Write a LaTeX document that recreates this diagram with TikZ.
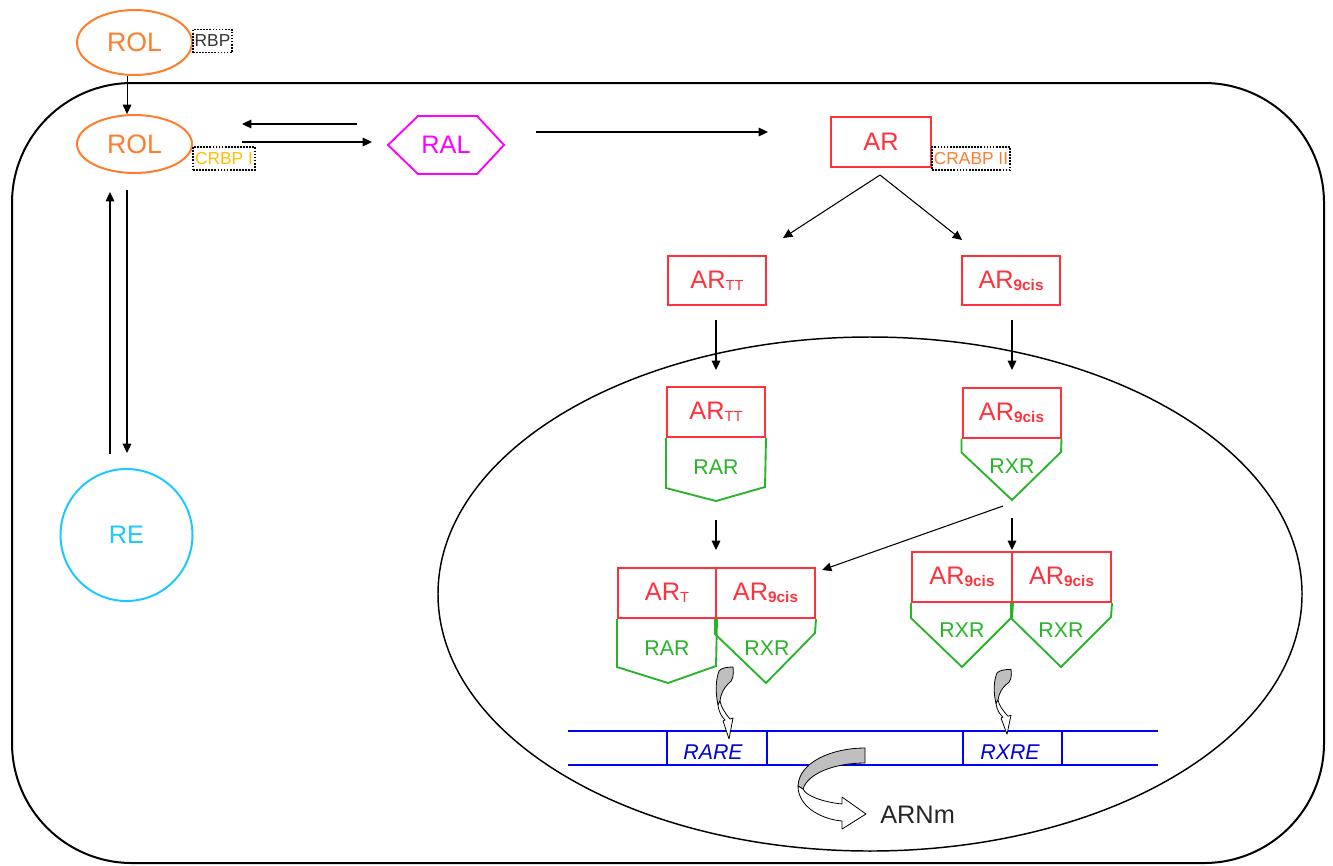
\documentclass[tikz,border=0pt]{standalone}
\usepackage{fontspec}
\setmainfont{Liberation Sans}
\usetikzlibrary{arrows.meta,shapes.geometric}
\definecolor{rolor}{RGB}{255,125,45}
\definecolor{arred}{RGB}{255,50,60}
\definecolor{rgreen}{RGB}{40,180,40}
\definecolor{recyan}{RGB}{30,200,255}
\definecolor{dnablue}{RGB}{0,0,255}
\definecolor{goldc}{RGB}{255,190,0}
\definecolor{ralmag}{RGB}{255,0,255}
\newcommand\lblfont{\fontsize{19}{22}\selectfont}
\newcommand\sbTT{\raisebox{-1.5pt}{\fontsize{11}{12}\selectfont TT}}
\newcommand\sbT{\raisebox{-1.5pt}{\fontsize{11}{12}\selectfont T}}
\newcommand\sbcis{\raisebox{-1.5pt}{\fontsize{11.5}{12}\selectfont\bfseries 9cis}}
\tikzset{
  rolell/.style={ellipse, draw=rolor, line width=1.5pt, text=rolor, minimum width=86.25pt, inner sep=0pt, font=\fontsize{20}{22}\selectfont},
  dotbox/.style={draw=black, densely dotted, line width=1.3pt, inner sep=0pt, minimum height=17.25pt, font=\fontsize{13}{15}\selectfont},
  arbox/.style={draw=arred, line width=1.5pt, text=arred, minimum width=73.5pt, minimum height=37.5pt, inner sep=0pt, font=\lblfont},
  recline/.style={draw=rgreen, line width=1.4pt, line join=miter},
  reclab/.style={text=rgreen, font=\fontsize{16}{18}\selectfont, inner sep=0pt},
  arr/.style={-{Triangle[length=7pt,width=6.5pt]}, line width=0.8pt},
  dna/.style={draw=dnablue, line width=1.5pt},
  dnalab/.style={text=dnablue!85!black, font=\fontsize{16}{18}\selectfont\itshape, inner sep=0pt},
  twist/.style={draw=black, line width=0.6pt, line join=round}
}
\begin{document}
\begin{tikzpicture}[x=0.75pt,y=-0.75pt]
\useasboundingbox (0,0) rectangle (1333,865);
% cell and nucleus
\draw[line width=1.5pt, rounded corners=90pt] (12,83) rectangle (1324,863);
\draw[line width=1.1pt] (870,594) ellipse [x radius=324pt, y radius=192.75pt];

% ROL / binding proteins
\node[rolell, minimum height=48.75pt] (rol1) at (134.5,42.5) {ROL};
\node[dotbox, minimum width=29.25pt, text=black!80] (rbp) at (212.5,41) {RBP};
\node[rolell, minimum height=43.5pt] (rol2) at (134.5,144) {ROL};
\node[dotbox, minimum width=46.5pt, text=goldc] (crbp) at (224,158.5) {CRBP I};

% RAL
\node[minimum width=87pt, minimum height=43.5pt, text=ralmag, font=\lblfont, inner sep=0pt] (ral) at (446,145) {RAL};
\draw[ralmag, line width=1.4pt] (388,145) -- (418,116) -- (477,116) -- (504,145) -- (477,174) -- (418,174) -- cycle;

% AR
\node[arbox, minimum width=75pt] (ar) at (881,142) {AR};
\node[dotbox, minimum width=58.5pt, text=rolor] (crabp) at (971,158.5) {CRABP II};

\node[arbox, minimum height=36.75pt] (artt1) at (717,280.5) {AR\sbTT};
\node[arbox, minimum height=36.75pt] (ar9a) at (1011,280.5) {AR\sbcis};

% RE
\node[circle, draw=recyan, line width=1.5pt, minimum size=99pt, text=recyan, font=\lblfont, inner sep=0pt] (re) at (126.5,535) {RE};

% nucleus receptors
\node[arbox] (artt2) at (716,412) {AR\sbTT};
\draw[recline] (artt2.south west) -- ++(0,50) -- (716,501) -- (765,487) -- (artt2.south east);
\node[reclab] (rar1) at (716,467) {RAR};

\node[arbox] (ar9b) at (1011.5,412.5) {AR\sbcis};
\draw[recline] (ar9b.south west) -- ++(0,14) -- (1012,500) -- (1061,452) -- (ar9b.south east);
\node[reclab] (rxr1) at (1012,466) {RXR};

\node[arbox] (art) at (667,593) {AR\sbT};
\node[arbox, minimum width=74.25pt] (ar9c) at (765.5,593) {AR\sbcis};
\draw[recline] (art.south west) -- ++(0,48) -- (668,683) -- (716,666) -- (art.south east);
\draw[recline] (ar9c.south west) -- ++(0,15) -- (766,683) -- (815,633) -- (ar9c.south east);
\node[reclab] (rar2) at (667,648) {RAR};
\node[reclab] (rxr2) at (767,648) {RXR};

\node[arbox, minimum width=75pt] (ar9d) at (962,577) {AR\sbcis};
\node[arbox, minimum width=74.25pt] (ar9e) at (1061.5,577) {AR\sbcis};
\draw[recline] (ar9d.south west) -- ++(0,15) -- (962,667) -- (1012,617) -- (ar9d.south east);
\draw[recline] (ar9e.south west) -- ++(0,15) -- (1061,667) -- (1111,617) -- (ar9e.south east);
\node[reclab] (rxr3) at (962,630) {RXR};
\node[reclab] (rxr4) at (1061,630) {RXR};

% connectors
\draw[arr] ([xshift=-5.6pt]rol1.south) -- ([xshift=-5.6pt]rol2.north);
\coordinate (p1) at (357,124); \coordinate (p2) at (242,124);
\coordinate (p3) at (242,142); \coordinate (p4) at (372,142);
\draw[arr] (p1) -- (p2);
\draw[arr] (p3) -- (p4);
\coordinate (p5) at (536,132); \coordinate (p6) at (768,132);
\draw[arr] (p5) -- (p6);
\coordinate (p7) at (880,175); \coordinate (p8) at (783,238); \coordinate (p9) at (962,240);
\draw[arr] (p7) -- (p8);
\draw[arr] (p7) -- (p9);
\coordinate (s1) at (716,320); \coordinate (s2) at (716,370);
\coordinate (s3) at (1012,320); \coordinate (s4) at (1012,370);
\draw[arr] (s1) -- (s2);
\draw[arr] (s3) -- (s4);
\coordinate (q1) at (716,520); \coordinate (q2) at (716,550);
\coordinate (q3) at (1012,518); \coordinate (q4) at (1012,550);
\coordinate (q5) at (1003,506); \coordinate (q6) at (822,570);
\draw[arr] (q1) -- (q2);
\draw[arr] (q3) -- (q4);
\draw[arr] (q5) -- (q6);
\coordinate (r1) at (110,454); \coordinate (r2) at (110,192);
\coordinate (r3) at (127,190); \coordinate (r4) at (127,453);
\draw[arr] (r1) -- (r2);
\draw[arr] (r3) -- (r4);

% DNA
\draw[dna] (568,731) -- (1158,731);
\draw[dna] (568,765) -- (1158,765);
\draw[dnablue, line width=1pt] (667,731) -- (667,765) (767,731) -- (767,765) (963,731) -- (963,765) (1062,731) -- (1062,765);
\node[dnalab] (rare) at (713,752) {RARE};
\node[dnalab] (rxre) at (1010,752) {RXRE};

% small twisted arrows
\begin{scope}[shift={(719,671)}]
\filldraw[twist, fill=black!25] (0,0) .. controls (2,-3) and (8,-4) .. (14,-4) .. controls (15,4) and (14,10) .. (9,13) .. controls (5,17) and (2,22) .. (1,30) -- (-1,34) .. controls (-4,20) and (-3,8) .. (0,0) -- cycle;
\filldraw[twist, fill=white] (-1,34) .. controls (0,42) and (3,46) .. (6,49) -- (4,50) -- (10,68) -- (14,47) -- (11,48) .. controls (6,42) and (2,36) .. (1,30) -- cycle;
\end{scope}
\begin{scope}[shift={(997,673)}, yscale=0.9]
\filldraw[twist, fill=black!25] (0,0) .. controls (2,-3) and (8,-4) .. (14,-4) .. controls (15,4) and (14,10) .. (9,13) .. controls (5,17) and (2,22) .. (1,30) -- (-1,34) .. controls (-4,20) and (-3,8) .. (0,0) -- cycle;
\filldraw[twist, fill=white] (-1,34) .. controls (0,42) and (3,46) .. (6,49) -- (4,50) -- (10,68) -- (14,47) -- (11,48) .. controls (6,42) and (2,36) .. (1,30) -- cycle;
\end{scope}

% big twisted arrow
\filldraw[twist, fill=black!25] (865,748) .. controls (832,748) and (799,762) .. (798,786) -- (803,789) .. controls (808,773) and (835,763) .. (865,763) -- cycle;
\filldraw[twist, fill=white] (798,786) .. controls (798,806) and (820,819) .. (842,821) -- (842,829) -- (866,814) -- (842,797) -- (842,804) .. controls (823,802) and (806,796) .. (803,789) -- cycle;
\node[font=\lblfont, text=black!85, anchor=west, inner sep=0pt] (arnm) at (880,815) {ARNm};
\end{tikzpicture}
\end{document}
